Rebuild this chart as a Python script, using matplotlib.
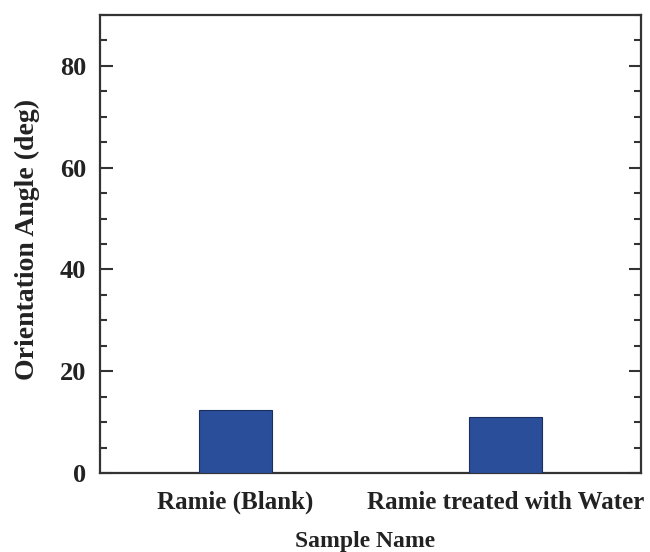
import numpy as np
import matplotlib.pyplot as plt
from matplotlib.ticker import MultipleLocator

samples = ['Ramie (Blank)', 'Ramie treated with Water']
angles = [12.3, 11.0]

plt.rcParams['font.family'] = ['Liberation Serif', 'DejaVu Serif']
plt.rcParams['font.weight'] = 'bold'

fig = plt.figure(figsize=(6.5, 5.52), dpi=100)
ax = fig.add_axes([100/650, 1 - 473/552, 541/650, 458/552])

x = np.arange(len(samples))
ax.bar(x, angles, width=0.27, color='#2B4E9B', edgecolor='#1a2f5e', linewidth=0.8, zorder=3)

ax.set_xlim(-0.5, 1.5)
ax.set_ylim(0, 90)
ax.set_xticks(x)
ax.set_xticklabels(samples, fontsize=18, fontweight='bold', color='#222222')
ax.tick_params(axis='x', length=0, pad=13)

ax.yaxis.set_major_locator(MultipleLocator(20))
ax.yaxis.set_minor_locator(MultipleLocator(5))
ax.tick_params(axis='y', which='both', direction='in', right=True, width=1.5, colors='#333333', labelcolor='#222222')
ax.tick_params(axis='y', which='major', length=9, labelsize=19, pad=10)
ax.tick_params(axis='y', which='minor', length=5)
for lbl in ax.get_yticklabels():
    lbl.set_fontweight('bold')

for s in ax.spines.values():
    s.set_linewidth(1.6)
    s.set_color('#333333')

ax.set_ylabel('Orientation Angle (deg)', fontsize=20, fontweight='bold', color='#222222')
ax.yaxis.set_label_coords(-0.11, 0.51)
ax.set_xlabel('Sample Name', fontsize=17, fontweight='bold', color='#222222')
ax.xaxis.set_label_coords(0.49, -0.126)

fig.savefig('out.png', dpi=100)
